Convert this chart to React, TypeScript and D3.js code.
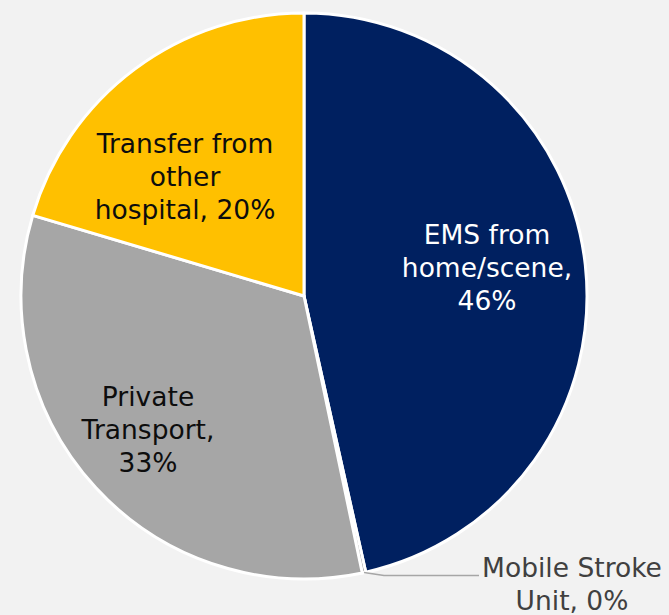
import React from "react";
import * as d3 from "d3";

const categories = ["EMS from home/scene", "Mobile Stroke Unit", "Private Transport", "Transfer from other hospital"];
const values = [46.5, 0.2, 32.9, 20.4];
const labelLines = [
  ["EMS from", "home/scene,", "46%"],
  ["Mobile Stroke", "Unit, 0%"],
  ["Private", "Transport,", "33%"],
  ["Transfer from", "other", "hospital, 20%"],
];
const colors = ["#002060", "#7f7f7f", "#a6a6a6", "#ffc000"];
const textColors = ["#ffffff", "#404040", "#0d0d0d", "#0d0d0d"];

const W = 669, H = 615;
const cx = 304, cy = 296, R = 283;
// label centres: x, baseline of the middle of the block (layout only)
const labelPos: [number, number][] = [
  [487, 277],
  [572, 593],
  [148, 439],
  [185, 186],
];
const lineH = 33;

export default function App() {
  const pie = d3.pie<number>().sort(null).value((d) => d);
  const arcs = pie(values);
  const arc = d3.arc<d3.PieArcDatum<number>>().innerRadius(0).outerRadius(R);
  const msu = arcs[1];
  const msuMid = (msu.startAngle + msu.endAngle) / 2;
  const edge = [cx + Math.sin(msuMid) * R, cy - Math.cos(msuMid) * R];
  return (
    <svg width={W} height={H} style={{ position: "absolute", left: 0, top: 0, background: "#f2f2f2" }}>
      <rect x={0} y={0} width={W} height={H} fill="#f2f2f2" />
      <g transform={`translate(${cx},${cy})`}>
        {arcs.map((a, i) => (
          <path key={categories[i]} d={arc(a) || ""} fill={colors[i]} stroke="#ffffff" strokeWidth={3} strokeLinejoin="round" />
        ))}
      </g>
      <polyline
        points={`${edge[0]},${edge[1]} ${edge[0] + 20},${edge[1] + 3} ${479},${edge[1] + 3}`}
        fill="none"
        stroke="#a6a6a6"
        strokeWidth={1.5}
      />
      {labelLines.map((lines, i) => (
        <text
          key={i}
          textAnchor="middle"
          fontFamily="DejaVu Sans, Verdana, sans-serif"
          fontSize={26.5}
          fill={textColors[i]}
        >
          {lines.map((l, j) => (
            <tspan key={j} x={labelPos[i][0]} y={labelPos[i][1] + (j - (lines.length - 1) / 2) * lineH}>
              {l}
            </tspan>
          ))}
        </text>
      ))}
    </svg>
  );
}
